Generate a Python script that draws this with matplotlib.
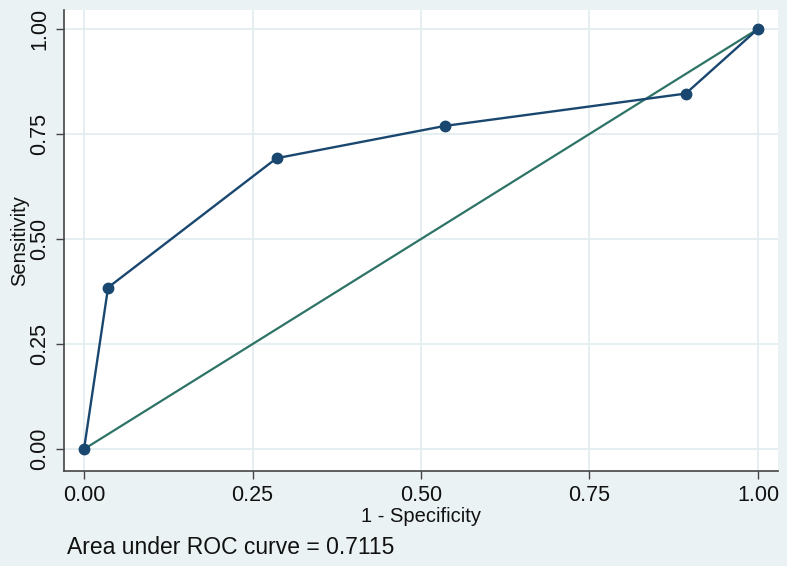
import matplotlib
matplotlib.use("Agg")
import matplotlib.pyplot as plt

# ROC points (1 - specificity, sensitivity)
fpr = [0.0, 1/28, 8/28, 15/28, 25/28, 1.0]
tpr = [0.0, 5/13, 9/13, 10/13, 11/13, 1.0]
ref_x = [0.0, 1.0]
ref_y = [0.0, 1.0]
ticks = [0.0, 0.25, 0.5, 0.75, 1.0]
tick_labels = ["0.00", "0.25", "0.50", "0.75", "1.00"]
auc_text = "Area under ROC curve = 0.7115"

plt.rcParams['font.family'] = ['Liberation Sans', 'DejaVu Sans']

bg = '#eaf2f3'
W, H = 787, 566
fig = plt.figure(figsize=(W / 100, H / 100), dpi=100, facecolor=bg)
ax = fig.add_axes([64 / W, (H - 471) / H, (778 - 64) / W, (471 - 10) / H])
ax.set_facecolor('white')

ax.plot(ref_x, ref_y, color='#2e7466', lw=1.6, zorder=3)
ax.plot(fpr, tpr, color='#1a476f', lw=1.7, marker='o', ms=7.5, zorder=4)

ax.set_xlim(-0.0297, 1.0297)
ax.set_ylim(-0.052, 1.045)
ax.set_xticks(ticks)
ax.set_xticklabels(tick_labels)
ax.set_yticks(ticks)
ax.set_yticklabels(tick_labels, rotation=90, va='center')
ax.grid(True, color='#e3edef', lw=1.3)
ax.set_axisbelow(True)

for side in ['top', 'right']:
    ax.spines[side].set_visible(False)
for side in ['left', 'bottom']:
    ax.spines[side].set_color('#444444')
    ax.spines[side].set_linewidth(1.2)
ax.tick_params(direction='out', length=6, width=1, color='#444444',
               labelsize=15.5, labelcolor='#111111', pad=4)

ax.set_xlabel('1 - Specificity', fontsize=14.5, labelpad=1, color='#111111')
ax.set_ylabel('Sensitivity', fontsize=14.5, labelpad=0, color='#111111')

fig.text(67 / W, 1 - 548 / H, auc_text, fontsize=16.5, va='center', ha='left',
         color='#111111')

fig.savefig('out.png', dpi=100, facecolor=bg)
